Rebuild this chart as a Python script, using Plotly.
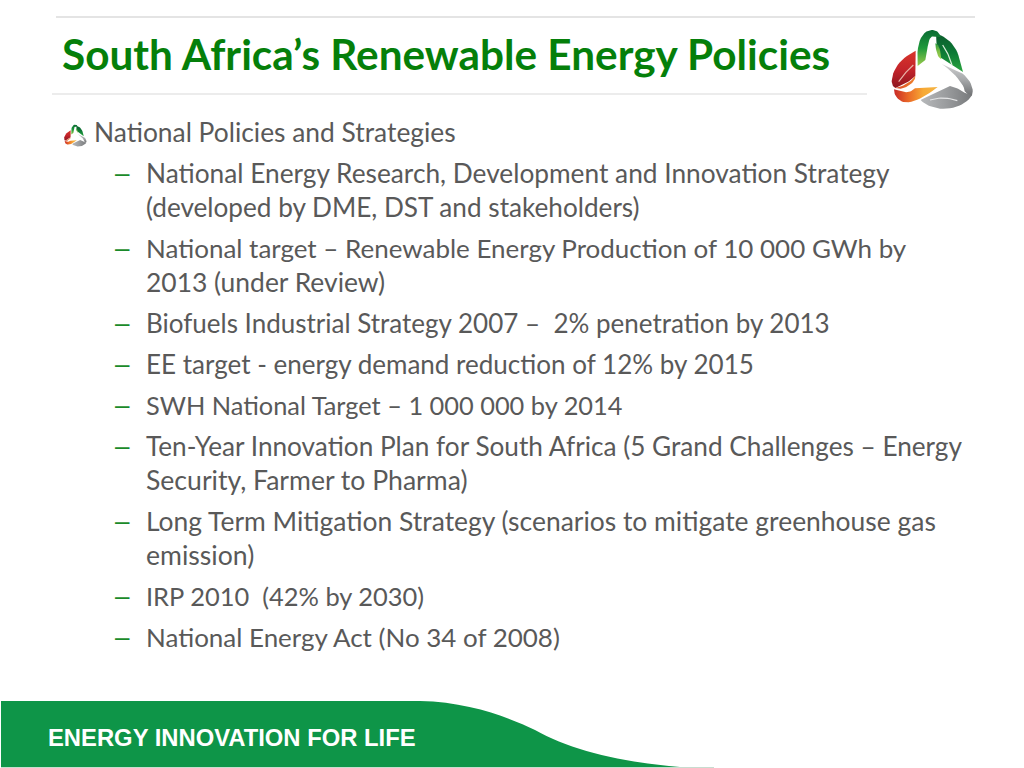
import plotly.graph_objects as go

TITLE = "South Africa’s Renewable Energy Policies"
HEADING = "National Policies and Strategies"
FOOTER = "ENERGY INNOVATION FOR LIFE"
# (is_new_bullet, text)
ITEMS = [
    (True, "National Energy Research, Development and Innovation Strategy"),
    (False, "(developed by DME, DST and stakeholders)"),
    (True, "National target – Renewable Energy Production of 10 000 GWh by"),
    (False, "2013 (under Review)"),
    (True, "Biofuels Industrial Strategy 2007 –  2% penetration by 2013"),
    (True, "EE target - energy demand reduction of 12% by 2015"),
    (True, "SWH National Target – 1 000 000 by 2014"),
    (True, "Ten-Year Innovation Plan for South Africa (5 Grand Challenges – Energy"),
    (False, "Security, Farmer to Pharma)"),
    (True, "Long Term Mitigation Strategy (scenarios to mitigate greenhouse gas"),
    (False, "emission)"),
    (True, "IRP 2010  (42% by 2030)"),
    (True, "National Energy Act (No 34 of 2008)"),
]
# the substitute font has other glyph widths, so each row is fitted to the reference's row length
ROW_SIZES = [26.28, 26.16, 25.97, 26.44, 26, 26.04, 25.36, 26.19, 26.58, 26.44, 26.6, 25.45, 25.96]

FONT = "Lato, Carlito, Calibri, sans-serif"
GREY = "#595959"
GREEN = "#057f0a"

shapes = []
ann = []
traces = []

def txt(x, y, s, size, color, family=FONT, bold=False):
    ann.append(dict(x=x, y=y, xref="x", yref="y", text=f"<b>{s}</b>" if bold else s, showarrow=False,
                    xanchor="left", yanchor="middle", align="left",
                    font=dict(family=family, size=size, color=color)))

def line(x0, x1, y, color):
    shapes.append(dict(type="line", x0=x0, x1=x1, y0=y, y1=y, xref="x", yref="y",
                       line=dict(color=color, width=1)))

def sample(path):
    """Flatten an 'M ... C ... L ... Z' outline to points."""
    toks = path.split()
    pts = []
    i = 0
    cmd = None
    while i < len(toks):
        t = toks[i]
        if t in ("M", "L", "C", "Z"):
            cmd = t
            i += 1
            continue
        if cmd in ("M", "L"):
            a, b = t.split(",")
            pts.append((float(a), float(b)))
            i += 1
        elif cmd == "C":
            p0 = pts[-1]
            p1, p2, p3 = [tuple(map(float, toks[i + k].split(","))) for k in range(3)]
            for n in range(1, 13):
                u = n / 12
                v = 1 - u
                pts.append(tuple(v**3*p0[d] + 3*v*v*u*p1[d] + 3*v*u*u*p2[d] + u**3*p3[d] for d in (0, 1)))
            i += 3
    return pts

# (outline, gradient direction, colours listed top/left first)  drawn in order
LOGO = [
    ("M 198,72 C 230,78 255,105 265,135 L 279,186 C 255,170 230,155 208,140 C 198,120 200,95 198,72 Z",
     "vertical", ["#0b5c2c", "#0c7a35", "#2aa53f"]),
    ("M 143,168 C 138,110 150,62 185,60 C 200,60 208,68 212,80 C 200,84 192,76 185,80 C 172,88 172,130 166,150 Z",
     "vertical", ["#0a6b33", "#1f9a3c", "#9ccb4c"]),
    ("M 196,100 C 205,100 212,118 214,148 C 205,143 198,130 196,100 Z",
     "vertical", ["#2c9a3e", "#7fc047", "#9fce50"]),
    ("M 218,105 C 232,125 240,145 246,165", None, "#d8ecd8"),
    ("M 137,122 C 100,140 70,170 65,210 C 65,222 68,230 76,234 C 95,226 125,212 136,198 Z",
     "vertical", ["#d8352b", "#c4242a", "#8e1620"]),
    ("M 86,215 C 100,195 115,178 130,165", None, "#e9b3a8"),
    ("M 76,234 C 100,230 125,215 136,198 L 135,206 C 128,222 108,234 92,236 Z",
     "horizontal", ["#d9472a", "#f0842c"]),
    ("M 72,238 C 72,255 82,270 100,276 C 130,282 170,257 203,231 L 135,235 C 125,245 110,250 100,244 C 92,242 82,240 72,238 Z",
     "horizontal", ["#c82a28", "#ea6a28", "#f7a934", "#f4b545"]),
    ("M 215,162 L 270,185 C 300,205 314,235 306,256 C 298,262 290,250 284,244 C 285,225 250,185 215,162 Z",
     "vertical", ["#cfd0d1", "#a6a8aa", "#6f7173"]),
    ("M 240,228 C 258,232 272,240 284,248 L 306,256 C 290,282 250,300 210,296 C 185,292 165,285 152,270 C 180,256 218,236 240,228 Z",
     "horizontal", ["#b7b9bb", "#9a9c9e", "#77797b"]),
    ("M 180,270 C 205,262 232,262 262,272", None, "#e4e5e6"),
]

def logo(ox, oy, scale, veins=True):
    for outline, direction, colors in LOGO:
        pts = sample(outline)
        xs = [ox + p[0]*scale for p in pts]
        ys = [oy + p[1]*scale for p in pts]
        if direction is None:
            if veins:
                traces.append(go.Scatter(x=xs, y=ys, mode="lines", hoverinfo="skip",
                                         line=dict(color=colors, width=1.2*scale*3)))
            continue
        # a vertical fill gradient runs bottom-to-top on the page
        ordered = colors[::-1] if direction == "vertical" else colors
        cs = [[i/(len(ordered)-1), c] for i, c in enumerate(ordered)]
        traces.append(go.Scatter(x=xs + xs[:1], y=ys + ys[:1], mode="lines", fill="toself", hoverinfo="skip",
                                 line=dict(width=0),
                                 fillgradient=dict(type=direction, colorscale=cs)))

line(56, 975, 17, "#c9c9c9")
line(52, 867, 94, "#d9d9d9")
txt(60, 53, TITLE, 42.3, GREEN, bold=True)
logo(870, 10, 1/3)
logo(58, 119, 0.0925, veins=False)

txt(91.5, 132, HEADING, 26.36, GREY)
y = 132
for (new, s), size in zip(ITEMS, ROW_SIZES):
    y += 41 if new else 34
    if new:
        txt(112.5, y, "–", 26, "#1a8a2a", family="Liberation Sans, sans-serif")
    txt(144, y, s, size, GREY)

# footer band
shapes.append(dict(type="path", xref="x", yref="y", fillcolor="#0e9548", line=dict(width=0),
    path="M 1,701 L 420,701 C 470,702 510,718 535,730 C 570,750 620,762 680,767 L 1,767 Z"))
line(1, 714, 767.5, "#c8dccf")
line(1, 1, 701, "#dddddd")
txt(46, 737, FOOTER, 23.8, "#ffffff", family="Liberation Sans, sans-serif", bold=True)

fig = go.Figure(traces)
fig.update_layout(
    width=1024, height=768, margin=dict(l=0, r=0, t=0, b=0),
    paper_bgcolor="white", plot_bgcolor="white", showlegend=False,
    xaxis=dict(range=[0, 1024], visible=False, fixedrange=True),
    yaxis=dict(range=[768, 0], visible=False, fixedrange=True),
    shapes=shapes, annotations=ann,
)
fig.write_html("out.html", config=dict(displayModeBar=False),
               post_script="document.body.style.margin='0';document.body.style.overflow='hidden';")
